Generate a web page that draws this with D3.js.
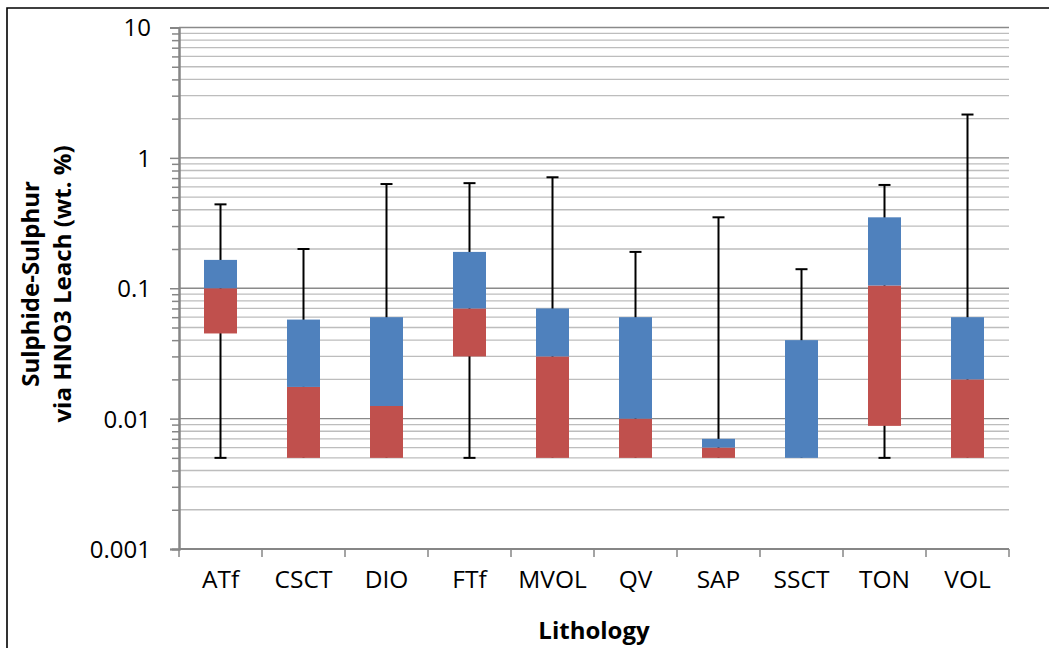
<!DOCTYPE html>
<html>
<head>
<meta charset="utf-8">
<script src="https://cdn.jsdelivr.net/npm/d3@7"></script>
<style>
  html, body { margin: 0; padding: 0; background: #fff; }
  svg { display: block; }
  text { font-family: "Open Sans", Lato, sans-serif; fill: #000; }
</style>
</head>
<body>
<svg id="chart" width="1049" height="648"></svg>
<script>
// Box statistics per lithology (wt. %)
const categories = ["ATf", "CSCT", "DIO", "FTf", "MVOL", "QV", "SAP", "SSCT", "TON", "VOL"];
const minValues    = [0.005, 0.005, 0.005, 0.005, 0.005, 0.005, 0.005, 0.005, 0.005, 0.005];
const q1Values     = [0.045, 0.005, 0.005, 0.030, 0.005, 0.005, 0.005, 0.005, 0.0088, 0.005];
const medianValues = [0.100, 0.0175, 0.0125, 0.070, 0.030, 0.010, 0.006, 0.005, 0.105, 0.020];
const q3Values     = [0.165, 0.0575, 0.060, 0.190, 0.070, 0.060, 0.007, 0.040, 0.350, 0.060];
const maxValues    = [0.44, 0.20, 0.63, 0.64, 0.71, 0.19, 0.35, 0.14, 0.62, 2.15];
const yTickValues  = [0.001, 0.01, 0.1, 1, 10];
const yTickLabels  = ["0.001", "0.01", "0.1", "1", "10"];

const svg = d3.select("#chart");
const plot = { left: 179, right: 1009, top: 27.5, bottom: 549 };

const x = d3.scaleBand().domain(categories).range([plot.left, plot.right]).padding(0);
const y = d3.scaleLog().domain([0.001, 10]).range([plot.bottom, plot.top]);

// Outer frame
svg.append("path")
  .attr("d", `M7,648 V8 H1049`)
  .attr("fill", "none").attr("stroke", "#000").attr("stroke-width", 1.6);

// Minor and major gridlines
const minorTicks = [];
for (let e = -3; e < 1; e++) {
  for (let m = 2; m <= 9; m++) minorTicks.push(m * Math.pow(10, e));
}
svg.append("g").selectAll("line").data(minorTicks).join("line")
  .attr("x1", plot.left).attr("x2", plot.right)
  .attr("y1", d => y(d)).attr("y2", d => y(d))
  .attr("stroke", "#bdbdbd").attr("stroke-width", 1.3);
svg.append("g").selectAll("line").data(yTickValues.slice(1)).join("line")
  .attr("x1", plot.left).attr("x2", plot.right)
  .attr("y1", d => y(d)).attr("y2", d => y(d))
  .attr("stroke", "#8a8a8a").attr("stroke-width", 1.3);

// Y axis with minor ticks
const yAxisG = svg.append("g").attr("transform", `translate(${plot.left},0)`);
yAxisG.call(d3.axisLeft(y).tickValues(minorTicks).tickSize(7).tickFormat(""));
yAxisG.append("g").call(d3.axisLeft(y).tickValues(yTickValues).tickSize(9)
  .tickFormat((d, i) => yTickLabels[i]));
yAxisG.selectAll("path.domain").attr("stroke", "#868686").attr("stroke-width", 2);
yAxisG.selectAll(".tick line").attr("stroke", "#868686").attr("stroke-width", 1.5);
yAxisG.selectAll(".tick text")
  .attr("x", -28).attr("dy", "0.35em")
  .style("font-size", "24px").style("font-family", "'Open Sans', sans-serif");

// X axis
const xAxisG = svg.append("g").attr("transform", `translate(0,${plot.bottom})`)
  .call(d3.axisBottom(x).tickSize(0).tickPadding(22));
xAxisG.select("path.domain").attr("stroke", "#868686").attr("stroke-width", 2)
  .attr("d", `M${plot.left},0H${plot.right}`);
xAxisG.selectAll(".tick text")
  .style("font-size", "24.5px").style("font-family", "'Open Sans', sans-serif")
  .attr("dy", "0.71em");
// Band-boundary tick marks
const boundaries = categories.map(c => x(c)).concat([plot.right]);
xAxisG.append("g").selectAll("line").data(boundaries).join("line")
  .attr("x1", d => d).attr("x2", d => d)
  .attr("y1", 0).attr("y2", 8)
  .attr("stroke", "#868686").attr("stroke-width", 1.5);

const rows = categories.map((c, i) => ({
  cat: c, min: minValues[i], q1: q1Values[i], med: medianValues[i], q3: q3Values[i], max: maxValues[i]
}));
const barW = 33;
const capW = 12;
const cx = d => x(d.cat) + x.bandwidth() / 2;

// Whiskers (drawn beneath the boxes)
const wg = svg.append("g");
wg.selectAll("line.whisker").data(rows).join("line")
  .attr("x1", cx).attr("x2", cx)
  .attr("y1", d => y(d.max)).attr("y2", d => y(d.min))
  .attr("stroke", "#000").attr("stroke-width", 2);
wg.selectAll("line.capTop").data(rows).join("line")
  .attr("x1", d => cx(d) - capW / 2).attr("x2", d => cx(d) + capW / 2)
  .attr("y1", d => y(d.max)).attr("y2", d => y(d.max))
  .attr("stroke", "#000").attr("stroke-width", 2);
wg.selectAll("line.capBottom").data(rows.filter(d => d.min < d.q1)).join("line")
  .attr("x1", d => cx(d) - capW / 2).attr("x2", d => cx(d) + capW / 2)
  .attr("y1", d => y(d.min)).attr("y2", d => y(d.min))
  .attr("stroke", "#000").attr("stroke-width", 2);

// Boxes: lower half (Q1 to median) and upper half (median to Q3)
const bg = svg.append("g");
bg.selectAll("rect.lower").data(rows.filter(d => d.med > d.q1)).join("rect")
  .attr("x", d => cx(d) - barW / 2).attr("width", barW)
  .attr("y", d => y(d.med)).attr("height", d => y(d.q1) - y(d.med))
  .attr("fill", "#C0504D");
bg.selectAll("rect.upper").data(rows).join("rect")
  .attr("x", d => cx(d) - barW / 2).attr("width", barW)
  .attr("y", d => y(d.q3)).attr("height", d => y(d.med) - y(d.q3))
  .attr("fill", "#4F81BD");

// Axis titles
svg.append("text")
  .attr("x", (plot.left + plot.right) / 2).attr("y", 639)
  .attr("text-anchor", "middle")
  .style("font-size", "24px").style("font-weight", "bold")
  .text("Lithology");

const yTitle = svg.append("text")
  .attr("transform", `translate(0,284) rotate(-90)`)
  .attr("text-anchor", "middle")
  .style("font-size", "24px").style("font-weight", "bold");
yTitle.append("tspan").attr("x", 0).attr("y", 39).text("Sulphide-Sulphur");
yTitle.append("tspan").attr("x", 0).attr("y", 71).text("via HNO3 Leach (wt. %)");
</script>
</body>
</html>
